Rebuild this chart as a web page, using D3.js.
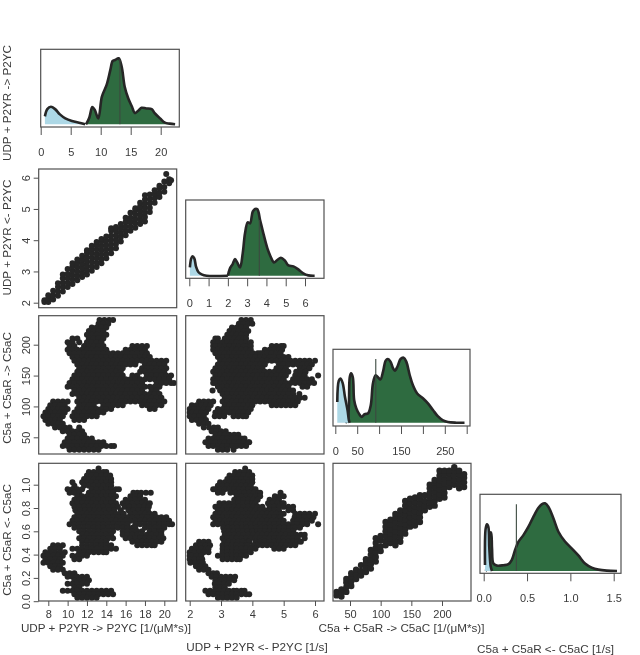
<!DOCTYPE html>
<html><head><meta charset="utf-8">
<script src="https://d3js.org/d3.v7.min.js"></script>
<style>
html,body{margin:0;padding:0;background:#fff}
svg{display:block;filter:blur(.3px)}
text{font-family:"Liberation Sans",Arial,sans-serif;fill:#3a3a3a}
</style></head><body><div id="c"></div>
<script>
const labels=["UDP + P2YR -> P2YC","UDP + P2YR <- P2YC","C5a + C5aR -> C5aC","C5a + C5aR <- C5aC"];
const xLabels=["UDP + P2YR -> P2YC [1/(μM*s)]","UDP + P2YR <- P2YC [1/s]","C5a + C5aR -> C5aC [1/(μM*s)]","C5a + C5aR <- C5aC [1/s]"];
const ticksK1=[8,10,12,14,16,18,20], ticksK2=[2,3,4,5,6], ticksK3=[50,100,150,200], ticksK4=[0,.2,.4,.6,.8,1];
const densTicks1=[0,5,10,15,20], densTicks2=[0,1,2,3,4,5,6], densTicks3=[0,50,100,150,200,250,300], densTicks4=[0,.5,1,1.5];
const densShown3=[0,50,150,250];

// density curves: [parameter value, relative height]
const d1Blue=[[.7,.12],[1.1,.23],[1.7,.265],[2.4,.23],[3.2,.15],[4.1,.09],[5.2,.05],[6.6,.02],[7.4,0]];
const d1Green=[[7.55,0],[8.1,.1],[8.6,.26],[9,.22],[9.6,.09],[10.2,.42],[11,.6],[11.6,.82],[12,.96],[12.4,.975],[13,1],[13.5,.87],[14,.57],[14.6,.39],[15.2,.27],[15.7,.17],[16.3,.21],[16.8,.25],[17.6,.24],[18.5,.23],[19,.17],[19.9,.09],[20.7,.025],[21.5,.01],[22.4,0]];
const d2Blue=[[.03,.125],[.1,.26],[.17,.29],[.26,.26],[.35,.135],[.47,.055],[.64,.02],[.9,0],[2,0]];
const d2Green=[[2,0],[2.11,.11],[2.25,.175],[2.37,.25],[2.49,.195],[2.63,.125],[2.77,.335],[2.89,.635],[3.03,.8],[3.15,.785],[3.29,.96],[3.41,1],[3.53,.995],[3.67,.835],[3.84,.635],[4.05,.41],[4.22,.285],[4.39,.2],[4.56,.235],[4.75,.27],[4.96,.225],[5.14,.155],[5.4,.14],[5.65,.095],[5.91,.035],[6.17,.005],[6.5,0]];
const d3Blue=[[4.5,.32],[8,.645],[12,.68],[17,.605],[22,.4],[28,.19],[31,.04],[33,0]];
const d3Green=[[23,0],[28,.04],[31,.27],[33,.7],[36,.76],[40,.7],[43,.35],[48,.22],[54,.14],[60,.09],[67,.13],[75,.145],[81,.27],[86,.605],[92,.73],[98,.695],[103,.665],[109,.785],[115,.955],[120,.98],[126,.94],[132,.835],[136,.8],[142,.865],[149,.98],[156,1],[162,.94],[170,.73],[177,.58],[187,.45],[200,.375],[211,.3],[223,.195],[234,.1],[246,.035],[257,.01],[276,0],[295,0]];
const d4Blue=[[.015,.09],[.023,.63],[.038,.69],[.054,.65],[.065,.335],[.081,.065],[.096,0]];
const d4Green=[[.023,0],[.054,.09],[.065,.53],[.085,.57],[.096,.335],[.112,.11],[.15,.08],[.227,.085],[.285,.1],[.323,.16],[.362,.31],[.4,.43],[.458,.53],[.515,.65],[.573,.8],[.63,.93],[.669,.985],[.708,1],[.746,.95],[.804,.78],[.862,.58],[.938,.435],[1.015,.335],[1.092,.23],[1.169,.11],[1.246,.05],[1.323,.02],[1.42,.005],[1.538,0]];
const medians=[[13.2,.985],[3.63,.835],[92.4,.98],[.377,.985]];

// scatter, thick diagonal bands: [x, y, y, ...]
const k1k2=[[7.6,2.02,2.08],[8,2.02,2.14,2.24],[8.5,2.1,2.24,2.38],[9,2.22,2.36,2.5,2.62],[9.5,2.36,2.5,2.64,2.78,2.9],[10,2.5,2.64,2.78,2.92,3.08],[10.5,2.6,2.74,2.88,3.02,3.16,3.26],[11,2.72,2.86,3,3.14,3.28,3.38],[11.5,2.82,2.96,3.1,3.24,3.38,3.5],[12,2.9,3.04,3.18,3.32,3.46,3.6,3.68],[12.5,3.02,3.16,3.3,3.44,3.58,3.72,3.82],[13,3.14,3.28,3.42,3.56,3.7,3.84,3.94],[13.5,3.26,3.4,3.54,3.68,3.82,3.96,4.04],[14,3.42,3.56,3.7,3.84,3.98,4.12],[14.5,3.58,3.72,3.86,4,4.14,4.3,4.38],[15,3.74,3.88,4.02,4.16,4.3,4.42],[15.5,3.96,4.1,4.24,4.38,4.52],[16,4.16,4.3,4.44,4.58,4.72],[16.5,4.3,4.44,4.58,4.72,4.88],[17,4.4,4.54,4.68,4.82,4.96,5.02],[17.5,4.52,4.66,4.8,4.94,5.08,5.2],[18,4.6,4.74,4.88,5.02,5.16,5.3,5.44],[18.5,4.9,5.04,5.18,5.32,5.46],[19,5.2,5.34,5.48,5.6],[19.5,5.38,5.52,5.66,5.74],[20,5.55,5.7,5.88],[20.5,5.82,5.95],[20.7,5.92],[20.2,6.12]];
const k3k4=[[28,.05,.08],[36,.04,.07,.1],[44,.08,.12,.16,.19],[52,.13,.17,.21,.24],[60,.19,.23,.27],[68,.22,.26,.31],[76,.25,.29,.33,.36],[84,.28,.32,.36,.4,.44],[92,.34,.38,.42,.46,.5,.54],[100,.43,.47,.52,.56],[108,.48,.52,.56,.6,.64,.68],[116,.5,.54,.58,.62,.66,.7],[124,.48,.52,.56,.6,.64,.68,.72,.75],[132,.51,.55,.59,.63,.67,.71,.75,.78],[140,.58,.62,.66,.7,.74,.78,.82,.86],[148,.64,.68,.72,.76,.8,.84,.88],[156,.65,.69,.73,.77,.81,.85,.89],[164,.68,.72,.76,.8,.84,.88,.91],[172,.78,.82,.86,.91],[180,.81,.85,.89,.93,.97,1],[188,.82,.86,.9,.94,.98,1.02,1.04],[196,.88,.92,.96,1,1.04,1.08,1.12],[204,.89,.93,.97,1.01,1.05,1.09,1.12],[212,.98,1.02,1.06,1.1,1.12],[220,1,1.04,1.08,1.12,1.15],[228,.97,1.01,1.05,1.09,1.12],[236,.98,1.02,1.06,1.09]];

// scatter blobs: [y, x, x, ...]
const k1k3=[[240,13.3,13.8,14.3,14.7],[234,13.2,13.7,14.2],[228,12.5,13,13.5,14],[222,12.2,12.7,13.2,13.7],[216,12,12.5,13,13.5,14],[210,10.5,11,12.2,12.7,13.2,13.7],[204,10,10.5,11.2,12,12.5,13,13.5],[198,10.2,10.7,11.7,12.2,12.7,13.2,13.7,16.7,17.2,17.7,18.2],[192,10,10.5,11,11.5,12,12.5,13,13.5,14,16,16.5,17,17.5,18],[186,10.2,10.7,11.2,11.7,12.2,12.7,13.2,13.7,14.2,14.7,15.2,15.7,16.2,16.7,17.2,17.7,18.2],[180,10.5,11,11.5,12,12.5,13,13.5,14,14.5,15,15.5,16,16.5,17,17.5,18,18.5],[174,10.7,11.2,11.7,12.2,12.7,13.2,13.7,14.2,14.7,15.2,15.7,16.2,16.7,17.2,17.7,18.2,18.7,19.2,19.7,20.2],[168,11,11.5,12,12.5,13,13.5,14,14.5,15,15.5,16,16.5,17,18,18.5,19,19.5,20],[162,11.2,11.7,12.2,12.7,13.2,13.7,14.2,14.7,15.2,15.7,17.7,18.2,18.7,19.2,19.7,20.2],[156,11,11.5,12,12.5,13,13.5,14,14.5,15,15.5,17.5,18,18.5,19,19.5,20],[150,10.7,11.2,11.7,12.2,12.7,13.2,13.7,14.2,14.7,15.2,15.7,16.7,17.2,18.2,18.7,19.2,19.7,20.2,20.7],[144,10.5,11,11.5,12,12.5,13,13.5,14,14.5,15,15.5,16,16.5,17,17.5,18,18.5,19,19.5,20,20.5],[138,10.2,10.7,11.2,11.7,12.2,12.7,13.2,13.7,14.2,14.7,15.2,15.7,16.2,16.7,17.2,17.7,19.2,19.7,20.2,20.7,21],[132,10,10.5,11,11.5,12,12.5,13,13.5,14,14.5,15,15.5,16,16.5,17,17.5,18,18.5,19,19.5],[126,10.7,11.2,11.7,12.2,12.7,13.2,13.7,14.2,14.7,15.2,15.7,16.2,16.7,17.2,17.7,18.7,19.2],[120,10.5,11,11.5,12,12.5,13,13.5,14,14.5,15,15.5,16,16.5,17,17.5,18,18.5,19,19.5],[114,11.2,11.7,12.2,12.7,13.2,13.7,14.2,14.7,15.2,15.7,16.2,16.7,17.2,17.7,18.2,18.7,19.2,19.7],[108,8.5,9,9.5,10,11,11.5,12,12.5,13,13.5,14,14.5,15,15.5,16,16.5,17,17.5,18,18.5,19,19.5,20],[102,8.2,8.7,9.2,9.7,11.2,11.7,12.2,12.7,13.7,14.2,14.7,15.2,15.7,17.7,18.2,18.7,19.2,19.7],[96,8,8.5,9,9.5,10,11,11.5,12,12.5,13,13.5,14,14.5,18.5,19],[90,7.7,8.2,8.7,9.2,9.7,10.7,11.2,11.7,12.2,12.7,13.2,13.7],[84,7.5,8,8.5,9,9.5,10.5,11,11.5,12,12.5,13],[78,7.7,8.2,8.7,9.2,10.7,11.2,11.7],[72,8,8.5,9,9.5],[66,8.7,9.2,9.7,10.2,11.2],[60,9.5,10,10.5,11,11.5],[54,10.2,10.7,11.2,11.7],[48,10,10.5,11,11.5,12,12.5],[42,9.7,10.2,10.7,11.2,11.7,12.2,12.7,13.2,13.7],[36,9.5,10,10.5,11,11.5,12,12.5,13,13.5,14,14.5,14.8],[30,10.2,10.7,11.2,11.7,12.2,12.7,13.2]];

const k1k4=[[1.14,13.2],[1.11,12.2,12.7,13.2,13.7,14],[1.08,12,12.5,13,13.5,14,14.4],[1.05,11.7,12.2,12.7,13.2,13.7,14.2,14.5],[1.02,10.5,11.5,12,12.5,13,13.5,14,14.5],[.99,10.7,11.7,12.2,12.7,13.2,13.7,14.2,14.5],[.96,10,10.5,11,11.5,12.5,13,13.5,14,14.5,15,15.3],[.93,10.2,10.7,11.2,12.2,12.7,13.2,13.7,14.2,14.7,16.8,17.2,17.6,18.1,18.6],[.9,11,11.5,12,12.5,13,13.5,14,14.5,15,16.5,17,17.5],[.87,10.7,11.2,11.7,12.2,12.7,13.2,13.7,14.2,14.7,16,16.5,17,17.5,18],[.84,10.5,11,11.5,12,12.5,13,13.5,14,14.5,15,15.7,16.2,16.7,17.2,17.7,18.2,18.5],[.81,10.7,11.2,11.7,12.2,12.7,13.2,13.7,14.2,14.7,15.2,15.9,16.4,16.9,17.4,17.9,18.4],[.78,10.8,11.3,11.8,12.3,12.8,13.3,13.8,14.3,14.8,15.5,16.3,16.8,17.3,17.8,18.3],[.75,11,11.5,12,12.5,13,13.5,14,14.5,15,15.5,15.8,16.5,17,17.5,18,18.5,19],[.72,10.7,11.2,11.7,12.2,12.7,13.2,13.7,14.2,14.7,15.2,15.7,16.2,16.7,17.2,17.7,18.2,18.7,19.2,19.7,20.2],[.69,10.5,11,11.5,12,12.5,13,13.5,14,14.5,15,15.5,16,16.5,17,17.5,18,18.5,19,19.5,20,20.5],[.66,10.2,10.7,11.2,11.7,12.2,12.7,13.2,13.7,14.2,14.7,15.2,15.7,16.2,17,17.5,18,18.5,19,19.5,20,20.5,20.8],[.63,10.7,11.2,11.7,12.2,12.7,13.2,13.7,14.2,14.7,15.2,15.7,16.2,16.7,17,18,18.5,19,19.5,20],[.6,11.2,11.7,12.2,12.7,13.2,13.7,14.2,14.7,15.7,16.2,16.7,17.2,17.7,18.5,19,19.5,19.7],[.57,11.5,12,12.5,13,13.5,14,14.5,15.7,16.2,16.7,17.2,17.7,18.2,18.7,19.2,19.7],[.54,11.2,11.7,12.2,12.7,13.2,13.7,14.2,14.7,16,16.5,17,17.5,18,18.5,19,19.5,19.9],[.51,11.5,12,12.5,13,13.5,14,16.7,17.2,17.7,18.2,18.7,19.2,19.7],[.48,8.5,9,9.5,11.5,12,12.5,13,13.5,14,14.5,17.2,17.7,18.2,18.7,19],[.45,8.2,8.7,9.2,10.5,11,11.5,12,12.5,13,13.5,14,14.5,15],[.42,7.7,8.2,8.7,9.2,9.7,11.2,11.7,12.2,12.7,13.2,13.7,14],[.39,7.5,8,8.5,9,9.5,10.5,11,11.5,12],[.36,7.7,8.2,8.7,9.2,10.7,11.2],[.33,7.5,8,8.5,9,9.5],[.3,8.2,8.7,9.2],[.27,8.5,9,9.5],[.24,9.7,10.2,10.7],[.21,10,10.5,11,11.5,12],[.18,10.7,11.2,11.7,12.2],[.15,10,10.5,11,11.5,12],[.12,10.7,11.2],[.09,9.5,10,10.5,11,11.5,12,12.5,13,13.5,14,14.5],[.06,10.7,11.2,11.7,12.2,12.7,13.2,13.7,14.2,14.7],[.03,11,11.5,12,12.5,13]];

const k2k3=[[240,3.65,3.8,3.95],[234,3.57,3.72,3.87,4],[228,3.35,3.5,3.65,3.8],[222,3.27,3.42,3.57,3.72,3.87],[216,3.2,3.35,3.5,3.65,3.8],[210,2.82,2.9,3.12,3.27,3.42,3.57,3.72,3.8],[204,2.75,2.9,3.05,3.2,3.35,3.5,3.65,3.8,3.95],[198,2.75,2.82,2.97,3.12,3.27,3.42,3.57,3.72,3.87,3.95,4.62,4.77,4.92,5],[192,2.75,2.9,3.05,3.2,3.35,3.5,3.65,3.8,3.95,4.4,4.55,4.7,4.85,4.95],[186,2.82,2.97,3.12,3.27,3.42,3.57,3.72,3.87,4.02,4.17,4.25,4.32,4.47,4.62,4.77,4.9],[180,2.9,3.05,3.2,3.35,3.5,3.65,3.8,3.95,4.1,4.25,4.4,4.55,4.7,4.85,5,5.15],[174,2.97,3.12,3.27,3.42,3.57,3.72,3.87,4.02,4.17,4.32,4.47,4.62,4.77,4.92,5.07,5.22,5.37,5.52,5.67,5.82,6],[168,2.9,3.05,3.2,3.35,3.5,3.65,3.8,3.95,4.1,4.25,4.4,4.85,5,5.15,5.3,5.45,5.6,5.75,5.9],[162,2.82,2.97,3.12,3.27,3.42,3.57,3.72,3.87,4.02,4.17,4.32,4.77,4.92,5.07,5.52,5.67,5.82],[156,2.75,2.9,3.05,3.2,3.35,3.5,3.65,3.8,3.95,4.1,4.25,4.4,4.55,4.7,4.85,5,5.15,5.4,5.55,5.7],[150,2.82,2.97,3.12,3.27,3.42,3.57,3.72,3.87,4.02,4.17,4.32,4.47,4.62,4.77,4.92,5.07,5.37,5.52,5.67,6.1],[144,2.75,2.9,3.05,3.2,3.35,3.5,3.65,3.8,3.95,4.1,4.25,4.4,4.55,4.7,4.85,5,5.3,5.45,5.6,5.75,5.9],[138,2.75,2.82,2.97,3.12,3.27,3.42,3.57,3.72,3.87,4.02,4.17,4.32,4.47,4.62,4.77,4.92,5.07,5.22,5.37,5.52,5.67,5.82,5.97],[132,2.9,3.05,3.2,3.35,3.5,3.65,3.8,3.95,4.1,4.25,4.4,4.55,4.7,4.85,5,5.15,5.6,5.75],[126,2.73,2.97,3.12,3.27,3.42,3.57,3.72,3.87,4.02,4.17,4.32,4.47,4.62,4.77,4.92,5.07,5.22,5.3],[120,3.05,3.2,3.35,3.5,3.65,3.8,3.95,4.1,4.25,4.4,4.55,4.7,4.85,5,5.15,5.3,5.5],[114,3.12,3.27,3.42,3.57,3.72,3.87,4.02,4.17,4.32,4.47,4.62,4.77,4.92,5.07,5.22,5.37,5.52,5.67],[108,2.3,2.45,2.6,2.75,3.05,3.2,3.35,3.5,3.65,3.8,3.95,4.1,4.25,4.4,4.55,4.7,4.85,5,5.15,5.3,5.45],[102,2.07,2.22,2.37,2.52,2.67,3.12,3.27,3.42,3.57,3.72,3.87,4,4.62,4.77,4.92,5.07,5.22,5.37],[96,2,2.15,2.3,2.45,2.6,2.9,3.05,3.2,3.35,3.5,3.65,3.8,3.95],[90,2,2.07,2.22,2.37,2.52,2.82,2.97,3.12,3.27,3.42,3.57,3.72,3.87],[84,2,2.15,2.3,2.45,2.8,2.95,3.1,3.4,3.55,3.7,3.8],[78,2.07,2.22,2.37,2.52],[72,2.3,2.45,2.6],[66,2.45,2.62,2.77,2.9],[60,2.7,2.85,3,3.15],[54,2.82,2.97,3.12,3.27,3.42,3.55],[48,2.6,2.75,2.9,3.05,3.2,3.35,3.5,3.65,3.75],[42,2.5,2.67,2.82,2.97,3.12,3.27,3.42,3.57,3.72,3.87,3.9],[36,2.6,2.75,2.9,3.05,3.2,3.35,3.5,3.65,3.8],[30,2.9,3.05,3.2,3.4]];

const k2k4=[[1.14,3.77],[1.11,3.45,3.6,3.75,3.9],[1.08,3.27,3.42,3.57,3.72,3.87,4],[1.05,3.2,3.35,3.5,3.65,3.8,3.95,4],[1.02,2.97,3.12,3.27,3.42,3.57,3.72,3.87,4],[.99,2.9,3.05,3.2,3.35,3.5,3.65,3.8,3.95],[.96,2.75,2.82,2.97,3.12,3.27,3.42,3.57,3.72,3.87,4.02,4.1],[.93,2.9,3.05,3.3,3.45,3.6,3.75,3.9,4.05,4.2,4.25,4.9],[.9,3.5,3.65,3.8,3.95,4.1,4.25,4.72,4.87,5],[.87,3.42,3.57,3.72,3.87,4.02,4.17,4.55,4.7,4.85],[.84,2.95,3.1,3.25,3.4,3.55,3.7,3.85,4,4.1,4.5,4.65,4.8,4.95,5],[.81,2.82,2.97,3.12,3.27,3.42,3.57,3.72,3.87,4.02,4.17,4.32,4.55,4.7,4.85,5,5.15,5.3],[.78,2.9,3.05,3.2,3.35,3.5,3.65,3.8,3.95,4.1,4.25,4.4,4.55,4.7,4.85,5.15,5.3],[.75,2.82,2.97,3.12,3.27,3.42,3.57,3.72,3.87,4.02,4.17,4.32,4.47,4.62,4.77,4.92,5,5.37,5.52,5.67,5.82,6],[.72,2.75,2.9,3.05,3.2,3.35,3.5,3.65,3.8,3.95,4.1,4.25,4.4,4.55,4.7,4.85,4.9,5.35,5.5,5.65,5.8,5.95],[.69,2.82,2.97,3.12,3.27,3.42,3.57,3.72,3.87,4.02,4.17,4.32,4.47,4.62,4.77,4.92,5,5.3,5.45,5.6,5.75,5.9],[.66,2.75,2.9,3.05,3.2,3.35,3.5,3.65,3.8,3.95,4.1,4.25,4.4,4.55,4.7,4.85,5,5.15,5.3,5.45,5.6,5.75,6.1],[.63,3.07,3.22,3.37,3.52,3.67,3.82,3.97,4.12,4.27,4.42,4.57,4.72,4.87,5.02,5.17,5.3,5.37,5.52],[.6,3.1,3.25,3.4,3.55,3.7,3.85,4,4.15,4.25,4.4,4.55,4.7,4.85,5,5.15,5.3],[.57,3.12,3.27,3.42,3.57,3.72,3.87,4.02,4.17,4.32,4.47,4.62,4.77,4.92,5.07,5.22,5.3,5.4,5.55,5.67],[.54,3.05,3.2,3.35,3.5,3.65,3.8,3.95,4.1,4.25,4.4,4.55,4.7,4.85,5,5.15,5.3,5.45,5.67],[.51,2.3,2.45,2.6,3.1,3.25,3.4,3.55,3.7,3.85,3.9,4.1,4.25,4.4,4.55,4.7,4.85,5,5.15,5.3,5.45,5.55],[.48,2.2,2.35,2.5,2.65,3.05,3.2,3.35,3.5,3.65,3.8,3.85,4.02,4.17,4.32,4.47,4.62,4.77,4.92,5.07,5.22,5.37],[.45,2.07,2.22,2.37,2.52,2.6,3.05,3.2,3.35,3.5,3.65,3.8,3.95,4.1,4.7,4.85,5],[.42,2,2.15,2.3,2.45,2.6,3.05,3.2,3.35,3.5,3.65,3.8,3.95],[.39,2,2.07,2.22,2.37,2.9,3.05,3.2,3.35,3.5,3.65,3.8],[.36,2,2.15,2.3,2.4,3.05,3.2,3.35,3.5,3.6],[.33,2.02,2.17,2.32,2.42],[.3,2.2,2.35,2.5],[.27,2.3,2.45,2.6],[.24,2.6,2.75,2.87],[.21,2.7,2.85,3,3.15,3.3,3.45],[.18,2.82,2.97,3.12,3.27,3.42],[.15,2.8,2.95,3.1,3.25],[.12,2.82,2.97,3.12],[.09,2.5,2.65,2.8,2.95,3.1,3.25,3.4,3.5,3.65,3.75],[.06,2.6,2.75,2.9,3.05,3.2,3.35,3.5,3.65,3.8,3.9],[.03,2.9,3.05,3.2,3.35,3.5]];

const W=640,H=655,BLUE="#add8e6",GREEN="#2e6b40",INK="#262626",BOX="#505050";
const svg=d3.select("#c").append("svg").attr("width",W).attr("height",H);
const cols=[[38.7,176.7],[185.7,324],[333,471]];
const rows=[[169,307.7],[315.7,454],[463.3,601]];
const sx=[d3.scaleLinear([8,20],[48.3,164.3]),d3.scaleLinear([2,6],[189.7,315]),d3.scaleLinear([50,200],[350,442])];
const sy=[d3.scaleLinear([2,6],[302.7,177.7]),d3.scaleLinear([50,200],[437.3,344.7]),d3.scaleLinear([0,1],[601.2,484.7])];

function style(g){
  g.selectAll(".domain").remove();
  g.selectAll("line").attr("stroke",BOX).attr("stroke-width",1);
  g.selectAll("text").attr("font-size",11).style("fill","#3a3a3a");
}
function box(x0,y0,x1,y1){
  svg.append("rect").attr("x",x0).attr("y",y0).attr("width",x1-x0).attr("height",y1-y0)
    .attr("fill","none").attr("stroke",BOX).attr("stroke-width",1.2);
}
function dots(points,x,y,r){
  svg.append("g").selectAll("circle").data(points).join("circle")
    .attr("cx",d=>x(d[0])).attr("cy",d=>y(d[1])).attr("r",r).attr("fill",INK);
}
const byRows=rows=>rows.flatMap(r=>r.slice(1).map(v=>[v,r[0]]));
const byCols=cols=>cols.flatMap(r=>r.slice(1).map(v=>[r[0],v]));

// scatter panels
dots(byCols(k1k2),sx[0],sy[0],3);
dots(byRows(k1k3),sx[0],sy[1],3);
dots(byRows(k1k4),sx[0],sy[2],3);
dots(byRows(k2k3),sx[1],sy[1],3);
dots(byRows(k2k4),sx[1],sy[2],3);
dots(byCols(k3k4),sx[2],sy[2],3.2);
box(cols[0][0],rows[0][0],cols[0][1],rows[0][1]);
box(cols[0][0],rows[1][0],cols[0][1],rows[1][1]);
box(cols[0][0],rows[2][0],cols[0][1],rows[2][1]);
box(cols[1][0],rows[1][0],cols[1][1],rows[1][1]);
box(cols[1][0],rows[2][0],cols[1][1],rows[2][1]);
box(cols[2][0],rows[2][0],cols[2][1],rows[2][1]);

// bottom axes
[[0,ticksK1,d3.format("d")],[1,ticksK2,d3.format("d")],[2,ticksK3,d3.format("d")]].forEach(([i,t,f])=>{
  svg.append("g").attr("transform",`translate(0,${rows[2][1]})`)
    .call(d3.axisBottom(sx[i]).tickValues(t).tickFormat(f).tickSize(5).tickPadding(4)).call(style);
});
// left axes
[[0,ticksK2,d3.format("d")],[1,ticksK3,d3.format("d")],[2,ticksK4,d3.format(".1f")]].forEach(([i,t,f])=>{
  const g=svg.append("g").attr("transform",`translate(${cols[0][0]},0)`)
    .call(d3.axisLeft(sy[i]).tickValues(t).tickFormat(f).tickSize(5)).call(style);
  g.selectAll("text").attr("x",0).attr("dy",0).attr("text-anchor","middle").attr("transform","translate(-8.5,0) rotate(-90)");
});

// density panels
const dens=[
 {box:[40.7,49.3,179.3,127],x:d3.scaleLinear([0,20],[40.7,160.7]),base:124.3,top:58.3,t:densTicks1,f:d3.format("d"),blue:d1Blue,green:d1Green,med:medians[0]},
 {box:[185.7,200,324,278.3],x:d3.scaleLinear([0,6],[189.3,305]),base:275.7,top:209,t:densTicks2,f:d3.format("d"),blue:d2Blue,green:d2Green,med:medians[1]},
 {box:[333,349.3,470,426],x:d3.scaleLinear([0,300],[335.3,466.7]),base:422.7,top:357.7,t:densTicks3,f:d=>densShown3.includes(d)?d:"",blue:d3Blue,green:d3Green,med:medians[2]},
 {box:[480,494.3,621,573.3],x:d3.scaleLinear([0,1.5],[483.7,613.7]),base:571,top:503.3,t:densTicks4,f:d3.format(".1f"),blue:d4Blue,green:d4Green,med:medians[3]}
];
dens.forEach(p=>{
  const y=d3.scaleLinear([0,1],[p.base,p.top]);
  const curve=d3.curveCatmullRom.alpha(.5);
  const area=d3.area().x(d=>p.x(d[0])).y0(p.base).y1(d=>y(d[1])).curve(curve);
  const line=d3.line().x(d=>p.x(d[0])).y(d=>y(d[1])).curve(curve);
  svg.append("path").datum(p.green).attr("d",area).attr("fill",GREEN);
  svg.append("path").datum(p.green).attr("d",line).attr("fill","none").attr("stroke",INK).attr("stroke-width",2.6);
  svg.append("path").datum(p.blue).attr("d",area).attr("fill",BLUE);
  svg.append("path").datum(p.blue).attr("d",line).attr("fill","none").attr("stroke",INK).attr("stroke-width",2.6);
  svg.append("line").attr("x1",p.x(p.med[0])).attr("x2",p.x(p.med[0])).attr("y1",p.base).attr("y2",y(p.med[1]))
    .attr("stroke","#3c4a40").attr("stroke-width",1.1);
  box(...p.box);
  svg.append("g").attr("transform",`translate(0,${p.box[3]})`)
    .call(d3.axisBottom(p.x).tickValues(p.t).tickFormat(p.f).tickSize(8).tickPadding(13)).call(style);
});

// titles
[[103],[237.5],[388],[540]].forEach(([cy],i)=>{
  svg.append("text").attr("transform",`translate(10.5,${cy}) rotate(-90)`).attr("text-anchor","middle")
    .attr("font-size",11.7).text(labels[i]);
});
[[106,632],[257,651],[401.5,632],[545.5,653]].forEach(([cx,by],i)=>{
  svg.append("text").attr("x",cx).attr("y",by).attr("text-anchor","middle").attr("font-size",11.7).text(xLabels[i]);
});
</script></body></html>
